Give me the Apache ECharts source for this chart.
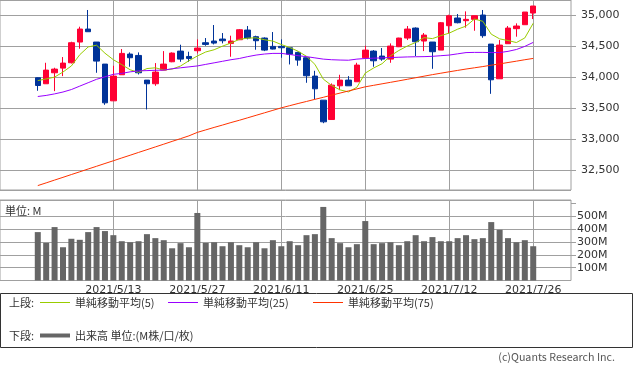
<!DOCTYPE html>
<html><head><meta charset="utf-8">
<script src="https://cdn.jsdelivr.net/npm/echarts@6/dist/echarts.min.js"></script>
<style>html,body{margin:0;padding:0;background:#fff}#c{width:633px;height:372px}</style>
</head><body><div id="c"></div>
<script>
const dates = ['2021/4/30','2021/5/3','2021/5/4','2021/5/5','2021/5/6','2021/5/7','2021/5/10','2021/5/11','2021/5/12','2021/5/13',
'2021/5/14','2021/5/17','2021/5/18','2021/5/19','2021/5/20','2021/5/21','2021/5/24','2021/5/25','2021/5/26','2021/5/27',
'2021/5/28','2021/6/1','2021/6/2','2021/6/3','2021/6/4','2021/6/7','2021/6/8','2021/6/9','2021/6/10','2021/6/11',
'2021/6/14','2021/6/15','2021/6/16','2021/6/17','2021/6/18','2021/6/21','2021/6/22','2021/6/23','2021/6/24','2021/6/25',
'2021/6/28','2021/6/29','2021/6/30','2021/7/1','2021/7/2','2021/7/6','2021/7/7','2021/7/8','2021/7/9','2021/7/12',
'2021/7/13','2021/7/14','2021/7/15','2021/7/16','2021/7/19','2021/7/20','2021/7/21','2021/7/22','2021/7/23','2021/7/26'];
const opens = [33990,33893,34070,34145,34231,34565,34774,34565,34210,33618,
34038,34371,34349,33952,33893,34113,34247,34419,34333,34425,
34554,34581,34613,34543,34602,34758,34651,34629,34495,34495,
34473,34398,34312,34016,33629,33317,33860,33952,33925,34312,
34419,34339,34290,34489,34629,34790,34581,34565,34435,34828,
34952,34909,34930,35000,34532,33973,34538,34780,34844,35032];
const closes = [33865,34113,34129,34226,34554,34774,34731,34258,33586,34016,
34382,34312,34070,33893,34081,34210,34387,34290,34301,34468,
34527,34548,34586,34581,34763,34629,34586,34435,34452,34473,
34370,34274,34022,33812,33280,33871,33952,33860,34194,34435,
34263,34290,34500,34629,34774,34570,34677,34409,34876,34989,
34876,34930,34989,34667,33957,34516,34790,34823,35048,35145];
const lows = [33780,33893,33774,34016,34220,34457,34731,34070,33554,33618,
34038,34167,34043,33479,33860,34113,34240,34247,34247,34382,
34505,34527,34543,34328,34597,34608,34441,34419,34446,34312,
34204,34183,33909,33645,33258,33317,33790,33860,33925,34312,
34167,34263,34231,34484,34597,34339,34419,34134,34435,34704,
34866,34796,34747,34634,33731,33973,34538,34651,34844,34935];
const highs = [33995,34231,34151,34323,34570,34812,35081,34565,34210,34183,
34452,34398,34398,33952,34226,34419,34398,34522,34409,34608,
34629,34839,34710,34667,34774,34823,34667,34640,34726,34608,
34473,34409,34312,34102,33629,33898,34038,34016,34231,34505,
34435,34468,34543,34634,34823,34801,34710,34565,34887,35005,
35016,35059,34989,35081,34532,34597,34823,34866,35048,35145];
const volumes = [377,293,416,259,325,317,377,416,385,353,
306,298,306,361,330,314,251,291,259,526,
293,298,267,298,275,259,298,251,314,267,
306,275,353,361,573,330,291,259,283,463,
283,291,298,275,306,353,306,338,306,306,
330,353,322,330,455,395,330,298,314,267];
const ma5 = [33944,33971,34000,34082,34180,34361,34486,34514,34385,34280,
34201,34118,34076,34138,34150,34115,34129,34179,34264,34340,
34405,34441,34499,34549,34608,34628,34633,34602,34580,34525,
34477,34417,34335,34206,33968,33865,33794,33762,33837,34065,
34147,34216,34342,34429,34500,34558,34636,34620,34668,34709,
34772,34822,34935,34899,34692,34616,34589,34557,34631,34868];
const ma25 = [33688,33705,33730,33760,33800,33855,33910,33965,34005,34045,
34060,34085,34100,34105,34110,34113,34135,34150,34165,34180,
34205,34230,34255,34280,34300,34330,34355,34372,34382,34382,
34365,34345,34330,34310,34290,34280,34275,34272,34290,34300,
34305,34310,34315,34320,34325,34328,34330,34335,34345,34355,
34375,34395,34398,34398,34395,34395,34415,34445,34495,34559];
const ma75 = [32253,32297,32342,32386,32431,32475,32520,32564,32609,32653,
32698,32742,32787,32831,32876,32920,32965,33009,33054,33110,
33150,33190,33228,33268,33305,33345,33385,33425,33465,33505,
33540,33575,33608,33642,33675,33710,33743,33777,33810,33844,
33868,33892,33916,33940,33965,33990,34015,34040,34063,34086,
34108,34130,34150,34170,34192,34213,34235,34257,34280,34301];
const labelDates = ['2021/5/13','2021/5/27','2021/6/11','2021/6/25','2021/7/12','2021/7/26'];
const priceRange = [32182, 35242];
const volRange = [0, 627];
const volLabels = [100, 200, 300, 400, 500];
const seriesNames = ['単純移動平均(5)', '単純移動平均(25)', '単純移動平均(75)', '出来高 単位:(M株/口/枚)'];
const seriesColors = ['#99cc00', '#9900ff', '#ff3300', '#666666'];

const PAD = 4;
const before = Array.from({length: PAD}, (_, k) => 'pre' + k);
const after = Array.from({length: PAD}, (_, k) => 'post' + k);
const cats = before.concat(dates, after);
const padArr = arr => Array(PAD).fill('-').concat(arr, Array(PAD).fill('-'));
const candle = padArr(dates.map((d, i) => [opens[i], closes[i], lows[i], highs[i]]));

const GRID = '#a0a0a0';
const TXT = '#333333';
const FONT = 'DejaVu Sans';
const JP = 'Noto Sans CJK JP';
const showDate = (idx, val) => labelDates.indexOf(val) >= 0;

const xBase = {
  type: 'category', data: cats, boundaryGap: true,
  axisLine: {show: false}, axisTick: {show: false},
  splitLine: {show: true, interval: showDate, alignWithLabel: true, lineStyle: {color: GRID, width: 1}}
};

const legendCommon = {
  orient: 'horizontal', padding: 0, itemGap: 0, icon: 'rect', itemWidth: 30, itemHeight: 1,
  selectedMode: false,
  textStyle: {fontFamily: JP, fontSize: 11, color: TXT}
};

const chart = echarts.init(document.getElementById('c'));
chart.setOption({
  animation: false,
  backgroundColor: '#fff',
  grid: [
    {left: 0, top: 0, width: 571, height: 190, show: true, borderColor: GRID, borderWidth: 1},
    {left: 0, top: 200, width: 571, height: 80.5, show: true, borderColor: GRID, borderWidth: 1}
  ],
  xAxis: [
    Object.assign({}, xBase, {gridIndex: 0, axisLabel: {show: false}}),
    Object.assign({}, xBase, {gridIndex: 1, axisLabel: {show: true, interval: showDate, margin: 4,
      fontFamily: FONT, fontSize: 11, color: TXT}})
  ],
  yAxis: [
    {type: 'value', gridIndex: 0, position: 'right', min: priceRange[0], max: priceRange[1], splitNumber: 5, scale: true,
     axisLine: {show: false}, axisTick: {show: true, length: 5, lineStyle: {color: GRID}},
     splitLine: {show: true, lineStyle: {color: GRID, width: 1}},
     axisLabel: {margin: 10, fontFamily: FONT, fontSize: 11, color: TXT, showMinLabel: false, showMaxLabel: false,
       formatter: v => (v % 500 === 0) ? v.toLocaleString('en-US') : ''}},
    {type: 'value', gridIndex: 1, position: 'right', min: volRange[0], max: volRange[1], interval: 100,
     axisLine: {show: false}, axisTick: {show: true, length: 5, lineStyle: {color: GRID}},
     splitLine: {show: true, lineStyle: {color: [GRID, GRID, GRID, GRID, GRID, GRID, 'rgba(0,0,0,0)', GRID], width: 1}},
     axisLabel: {margin: 6, fontFamily: FONT, fontSize: 11, color: TXT, showMinLabel: false, showMaxLabel: false,
       formatter: v => volLabels.indexOf(v) >= 0 ? v + 'M' : ''}}
  ],
  legend: [
    Object.assign({}, legendCommon, {data: [seriesNames[0]], left: 40, top: 297}),
    Object.assign({}, legendCommon, {data: [seriesNames[1]], left: 168, top: 297}),
    Object.assign({}, legendCommon, {data: [seriesNames[2]], left: 313, top: 297}),
    Object.assign({}, legendCommon, {data: [seriesNames[3]], left: 40, top: 330, itemHeight: 4})
  ],
  series: [
    {type: 'candlestick', name: 'price', xAxisIndex: 0, yAxisIndex: 0, data: candle, barWidth: 6,
     itemStyle: {color: '#ff0033', color0: '#003399', borderColor: '#ff0033', borderColor0: '#003399', borderWidth: 1}},
    {type: 'line', name: seriesNames[0], xAxisIndex: 0, yAxisIndex: 0, data: padArr(ma5), symbol: 'none', z: 3,
     color: seriesColors[0], lineStyle: {width: 1, color: seriesColors[0]}},
    {type: 'line', name: seriesNames[1], xAxisIndex: 0, yAxisIndex: 0, data: padArr(ma25), symbol: 'none', z: 3,
     color: seriesColors[1], lineStyle: {width: 1, color: seriesColors[1]}},
    {type: 'line', name: seriesNames[2], xAxisIndex: 0, yAxisIndex: 0, data: padArr(ma75), symbol: 'none', z: 3,
     color: seriesColors[2], lineStyle: {width: 1, color: seriesColors[2]}},
    {type: 'bar', name: seriesNames[3], xAxisIndex: 1, yAxisIndex: 1, data: padArr(volumes), barWidth: 6,
     color: seriesColors[3], itemStyle: {color: seriesColors[3]}}
  ],
  graphic: [
    {type: 'rect', shape: {x: 0.5, y: 293.5, width: 632, height: 54}, style: {fill: 'none', stroke: '#333', lineWidth: 1}, silent: true},
    {type: 'text', x: 9, y: 303, style: {text: '上段:', font: '11px "Noto Sans CJK JP"', fill: TXT, verticalAlign: 'middle'}},
    {type: 'text', x: 9, y: 336, style: {text: '下段:', font: '11px "Noto Sans CJK JP"', fill: TXT, verticalAlign: 'middle'}},
    {type: 'text', x: 5, y: 211, style: {text: '単位: M', font: '11px "Noto Sans CJK JP"', fill: TXT, verticalAlign: 'middle'}},
    {type: 'text', x: 615, y: 357, style: {text: '(c)Quants Research Inc.', font: '10.7px "Noto Sans CJK JP"', fill: '#555', align: 'right', verticalAlign: 'middle'}}
  ]
});
</script></body></html>
